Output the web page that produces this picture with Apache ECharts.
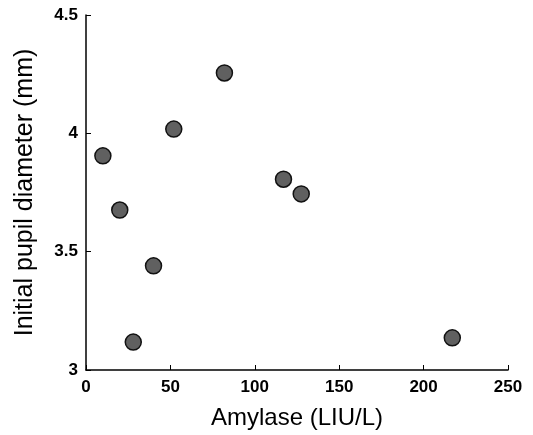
<!DOCTYPE html>
<html><head><meta charset="utf-8">
<script src="https://cdn.jsdelivr.net/npm/echarts@6/dist/echarts.min.js"></script>
<style>html,body{margin:0;padding:0;background:#fff}#c{width:533px;height:435px}</style>
</head><body><div id="c"></div>
<script>
var amylase = [10, 20, 28, 40, 52, 82, 117, 127.5, 217];
var pupil = [3.905, 3.676, 3.118, 3.44, 4.018, 4.255, 3.806, 3.744, 3.136];
var xTicks = [0, 50, 100, 150, 200, 250];
var yTicks = [3, 3.5, 4, 4.5];
var xTitle = 'Amylase (LIU/L)';
var yTitle = 'Initial pupil diameter (mm)';

var pts = amylase.map(function (x, i) { return [x, pupil[i]]; });
var chart = echarts.init(document.getElementById('c'));
var axisFont = {fontFamily: 'Liberation Sans', fontWeight: 'bold', fontSize: 17, color: '#000'};
chart.setOption({
  animation: false,
  backgroundColor: '#fff',
  grid: {left: 86, right: 25, top: 15, bottom: 64, containLabel: false},
  xAxis: {
    type: 'value', min: 0, max: 250, interval: 50,
    axisLine: {onZero: false, lineStyle: {color: '#000', width: 1.5}},
    axisTick: {inside: true, length: 5, lineStyle: {color: '#000'}},
    axisLabel: Object.assign({margin: 9, formatter: function (v) { return xTicks.indexOf(v) >= 0 ? String(v) : ''; }}, axisFont),
    splitLine: {show: false},
    name: xTitle, nameLocation: 'middle', nameGap: 36,
    nameTextStyle: {fontFamily: 'Liberation Sans', fontSize: 24, color: '#000'}
  },
  yAxis: {
    type: 'value', min: 3, max: 4.5, interval: 0.5,
    axisLine: {onZero: false, lineStyle: {color: '#000', width: 1.5}},
    axisTick: {inside: true, length: 5, lineStyle: {color: '#000'}},
    axisLabel: Object.assign({margin: 8, formatter: function (v) { return yTicks.indexOf(v) >= 0 ? String(v) : ''; }}, axisFont),
    splitLine: {show: false},
    name: yTitle, nameLocation: 'middle', nameGap: 48, nameRotate: 90,
    nameTextStyle: {fontFamily: 'Liberation Sans', fontSize: 25, color: '#000'}
  },
  series: [{
    type: 'scatter', data: pts, symbol: 'circle', symbolSize: 16,
    itemStyle: {color: '#606060', borderColor: '#111', borderWidth: 1.5, opacity: 1}
  }]
});
</script></body></html>
